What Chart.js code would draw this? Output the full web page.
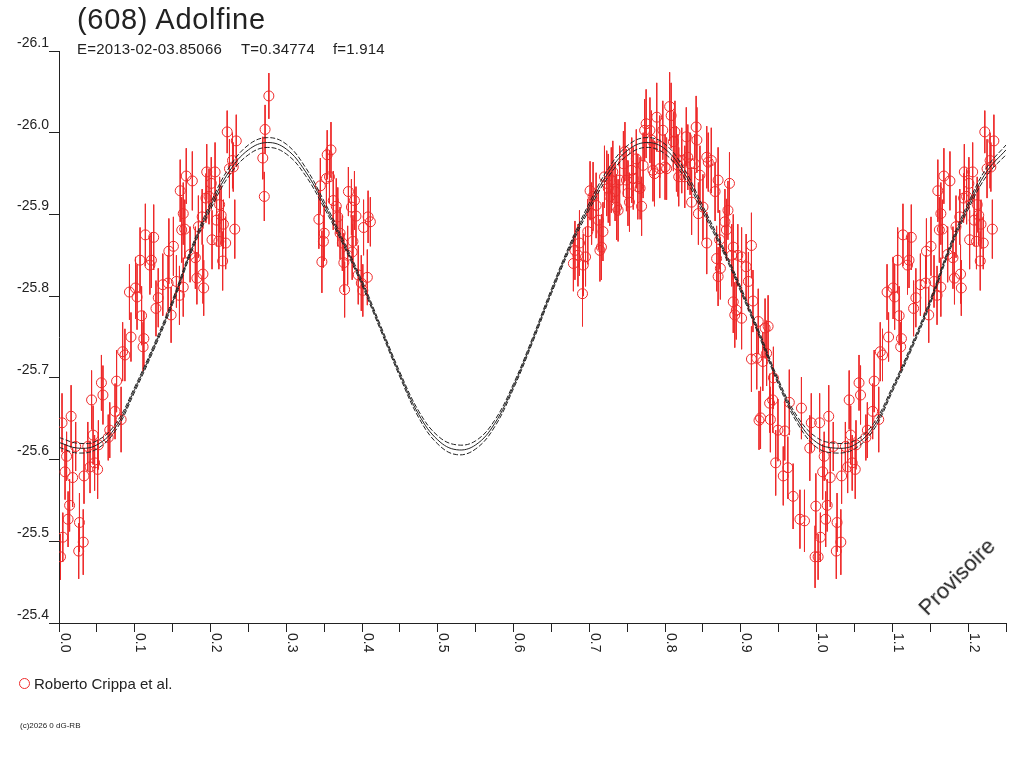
<!DOCTYPE html>
<html>
<head>
<meta charset="utf-8">
<script src="https://cdn.jsdelivr.net/npm/chart.js@4.4.1/dist/chart.umd.min.js"></script>
<style>
body { margin: 0; background: #fff; width: 1024px; height: 768px; overflow: hidden; position: relative; font-family: "Liberation Sans", Arial, sans-serif; color: #222; }
#chart { position: absolute; left: 0; top: 0; }
.txt { position: absolute; white-space: pre; line-height: 1; }
#legend-dot { position: absolute; left: 19px; top: 678px; width: 11px; height: 11px; box-sizing: border-box; border: 1px solid #ee2a2a; border-radius: 50%; }
</style>
</head>
<body>
<canvas id="chart" width="1024" height="768"></canvas>
<div class="txt" style="left:77px;top:5px;font-size:29px;letter-spacing:0.7px">(608) Adolfine</div>
<div class="txt" style="left:77px;top:41px;font-size:15px;letter-spacing:0.2px">E=2013-02-03.85066</div>
<div class="txt" style="left:241px;top:41px;font-size:15px;letter-spacing:0.2px">T=0.34774</div>
<div class="txt" style="left:333px;top:41px;font-size:15px;letter-spacing:0.2px">f=1.914</div>
<div id="legend-dot"></div>
<div class="txt" style="left:34px;top:676px;font-size:15px">Roberto Crippa et al.</div>
<div class="txt" style="left:20px;top:722px;font-size:8px">(c)2026 0 dG-RB</div>
<div class="txt" style="left:957px;top:577px;font-size:22px;transform:translate(-50%,-50%) rotate(-45deg)">Provisoire</div>

<script>
// tick labels
let xTickLabels = ['0.0', '0.1', '0.2', '0.3', '0.4', '0.5', '0.6', '0.7', '0.8', '0.9', '1.0', '1.1', '1.2'];
let yTickLabels = ['-26.1', '-26.0', '-25.9', '-25.8', '-25.7', '-25.6', '-25.5', '-25.4'];

// observations (phase, reduced magnitude, error)
let phase = [
    0.002, 0.005, 0.012, 0.014, 0.004, 0.016, 0.010, 0.008, 0.018, 0.022,
    0.027, 0.032, 0.026, 0.033, 0.038, 0.041, 0.043, 0.045, 0.047, 0.051,
    0.052, 0.056, 0.058, 0.065, 0.067, 0.076, 0.074, 0.082, 0.084, 0.087,
    0.095, 0.093, 0.101, 0.103, 0.109, 0.112, 0.111, 0.107, 0.120, 0.122,
    0.114, 0.125, 0.128, 0.131, 0.137, 0.144, 0.145, 0.151, 0.148, 0.155,
    0.159, 0.162, 0.164,
    0.277, 0.272, 0.269, 0.271, 0.222, 0.234, 0.229, 0.225, 0.230, 0.168,
    0.176, 0.160, 0.195, 0.206, 0.201, 0.198, 0.166, 0.194, 0.212, 0.214,
    0.208, 0.217, 0.232, 0.189, 0.184, 0.202, 0.211, 0.220, 0.216, 0.180,
    0.173, 0.190, 0.182, 0.191, 0.164,
    0.354, 0.359, 0.353, 0.357, 0.345, 0.343, 0.347, 0.350, 0.349, 0.362,
    0.366, 0.368, 0.371, 0.374, 0.376, 0.377, 0.382, 0.386, 0.390, 0.388,
    0.387, 0.392, 0.402, 0.408, 0.411, 0.395, 0.399, 0.401, 0.407, 0.381,
    0.691, 0.681, 0.685, 0.679, 0.687, 0.695, 0.692, 0.698, 0.701, 0.705,
    0.703, 0.709, 0.712, 0.714, 0.716, 0.718, 0.720, 0.723, 0.725, 0.727,
    0.729, 0.731, 0.734, 0.736, 0.738, 0.740, 0.745, 0.747, 0.749, 0.751,
    0.753, 0.756, 0.758, 0.762, 0.764, 0.767, 0.769, 0.771, 0.773, 0.775,
    0.780, 0.782, 0.784, 0.786, 0.789, 0.793, 0.797, 0.800, 0.802, 0.806,
    0.808, 0.813, 0.811, 0.815, 0.817, 0.818, 0.822, 0.826, 0.828, 0.830,
    0.833, 0.835, 0.839, 0.841, 0.842, 0.844, 0.846, 0.850, 0.855, 0.857,
    0.861, 0.855, 0.866, 0.870, 0.885, 0.883, 0.879, 0.881, 0.872, 0.868,
    0.873, 0.870, 0.890, 0.896, 0.901, 0.907, 0.890, 0.894, 0.892, 0.901,
    0.793,
    0.888, 0.914, 0.910, 0.916, 0.923, 0.932, 0.936, 0.914, 0.921, 0.929,
    0.934, 0.943, 0.938, 0.942, 0.926, 0.924, 0.939, 0.949, 0.958, 0.964,
    0.980, 0.946, 0.956, 0.962, 0.969, 0.978, 0.984, 0.991, 0.993, 0.998,
    0.999
];
let mag = [
    -25.481, -25.505, -25.527, -25.544, -25.645, -25.653, -25.604, -25.585, -25.578, -25.616,
    -25.523, -25.499, -25.488, -25.580, -25.616, -25.591, -25.673, -25.630, -25.596, -25.588,
    -25.618, -25.694, -25.679, -25.627, -25.636, -25.696, -25.659, -25.649, -25.732, -25.728,
    -25.750, -25.805, -25.810, -25.799, -25.776, -25.748, -25.738, -25.844, -25.838, -25.844,
    -25.875, -25.872, -25.785, -25.798, -25.814, -25.816, -25.855, -25.861, -25.777, -25.818,
    -25.801, -25.881, -25.901,
    -26.045, -26.004, -25.969, -25.922, -26.001, -25.990, -25.966, -25.956, -25.958, -25.947,
    -25.941, -25.929, -25.952, -25.952, -25.938, -25.922, -25.882, -25.920, -25.912, -25.899,
    -25.893, -25.888, -25.882, -25.897, -25.885, -25.869, -25.867, -25.865, -25.843, -25.847,
    -25.851, -25.827, -25.822, -25.810, -25.811,
    -25.973, -25.979, -25.944, -25.946, -25.935, -25.894, -25.842, -25.877, -25.867, -25.917,
    -25.910, -25.897, -25.877, -25.865, -25.841, -25.808, -25.928, -25.909, -25.917, -25.867,
    -25.854, -25.898, -25.884, -25.897, -25.891, -25.826, -25.816, -25.807, -25.823, -25.850,
    -25.803, -25.856, -25.850, -25.840, -25.865, -25.848, -25.838, -25.879, -25.929, -25.922,
    -25.901, -25.911, -25.893, -25.856, -25.860, -25.879, -25.946, -25.938, -25.932, -25.922,
    -25.942, -25.952, -25.928, -25.909, -25.905, -25.942, -25.962, -25.977, -25.942, -25.926,
    -25.915, -25.954, -25.944, -25.968, -25.934, -25.932, -25.910, -25.960, -26.003, -26.011,
    -26.003, -25.991, -25.954, -25.950, -26.019, -25.983, -26.003, -25.958, -25.956, -26.032,
    -26.021, -26.001, -25.989, -25.968, -25.960, -25.946, -25.966, -25.946, -25.995, -25.970,
    -25.962, -25.915, -25.962, -26.007, -25.991, -25.901, -25.948, -25.909, -25.970, -25.964,
    -25.966, -25.865, -25.928, -25.942, -25.938, -25.905, -25.891, -25.881, -25.869, -25.846,
    -25.834, -25.824, -25.860, -25.850, -25.848, -25.836, -25.793, -25.783, -25.777, -25.773,
    -25.956,
    -25.850, -25.862, -25.818, -25.794, -25.769, -25.761, -25.763, -25.723, -25.724, -25.720,
    -25.730, -25.700, -25.669, -25.673, -25.651, -25.648, -25.649, -25.636, -25.635, -25.670,
    -25.663, -25.596, -25.580, -25.590, -25.555, -25.527, -25.525, -25.614, -25.645, -25.481,
    -25.543
];
let err = [
    0.028, 0.030, 0.034, 0.032, 0.036, 0.038, 0.030, 0.034, 0.036, 0.030,
    0.036, 0.040, 0.034, 0.034, 0.030, 0.032, 0.036, 0.036, 0.034, 0.036,
    0.030, 0.034, 0.036, 0.028, 0.034, 0.038, 0.034, 0.040, 0.036, 0.032,
    0.030, 0.034, 0.038, 0.040, 0.036, 0.034, 0.030, 0.040, 0.036, 0.034,
    0.038, 0.040, 0.034, 0.036, 0.038, 0.034, 0.040, 0.036, 0.034, 0.032,
    0.036, 0.040, 0.038,
    0.028, 0.030, 0.026, 0.030, 0.026, 0.032, 0.034, 0.036, 0.030, 0.034,
    0.036, 0.038, 0.034, 0.036, 0.032, 0.034, 0.036, 0.030, 0.034, 0.036,
    0.032, 0.030, 0.036, 0.034, 0.038, 0.036, 0.034, 0.032, 0.036, 0.038,
    0.034, 0.036, 0.032, 0.034, 0.036,
    0.030, 0.034, 0.036, 0.032, 0.034, 0.036, 0.038, 0.034, 0.032, 0.036,
    0.034, 0.036, 0.032, 0.034, 0.036, 0.034, 0.030, 0.034, 0.036, 0.032,
    0.034, 0.036, 0.034, 0.032, 0.030, 0.036, 0.034, 0.032, 0.034, 0.036,
    0.040, 0.036, 0.038, 0.034, 0.040, 0.036, 0.038, 0.040, 0.036, 0.042,
    0.038, 0.040, 0.036, 0.038, 0.040, 0.036, 0.038, 0.040, 0.042, 0.036,
    0.040, 0.038, 0.036, 0.040, 0.038, 0.042, 0.040, 0.036, 0.038, 0.040,
    0.036, 0.040, 0.038, 0.036, 0.040, 0.038, 0.036, 0.040, 0.038, 0.042,
    0.040, 0.036, 0.038, 0.040, 0.042, 0.038, 0.036, 0.040, 0.038, 0.042,
    0.040, 0.038, 0.036, 0.040, 0.038, 0.036, 0.040, 0.038, 0.036, 0.040,
    0.038, 0.040, 0.036, 0.038, 0.040, 0.038, 0.036, 0.040, 0.038, 0.036,
    0.040, 0.038, 0.036, 0.040, 0.038, 0.036, 0.040, 0.038, 0.036, 0.040,
    0.038, 0.036, 0.040, 0.038, 0.036, 0.040, 0.038, 0.036, 0.040, 0.038,
    0.036,
    0.038, 0.040, 0.036, 0.038, 0.040, 0.036, 0.038, 0.040, 0.038, 0.036,
    0.040, 0.038, 0.036, 0.040, 0.038, 0.036, 0.040, 0.038, 0.036, 0.040,
    0.038, 0.040, 0.036, 0.038, 0.040, 0.036, 0.038, 0.040, 0.036, 0.038,
    0.040
];

// fitted light curve
let curvePhase = [
    0.000, 0.025, 0.050, 0.075, 0.100, 0.125, 0.150, 0.175, 0.200, 0.225,
    0.250, 0.275, 0.300, 0.325, 0.350, 0.375, 0.400, 0.425, 0.450, 0.475,
    0.500, 0.525, 0.550, 0.575, 0.600, 0.625, 0.650, 0.675, 0.700, 0.725,
    0.750, 0.775, 0.800, 0.825, 0.850, 0.875, 0.900, 0.925, 0.950, 0.975,
    1.000, 1.025, 1.050, 1.075, 1.100, 1.125, 1.150, 1.175, 1.200, 1.225, 1.250
];
let curveMid = [
    -25.621, -25.614, -25.618, -25.640, -25.686, -25.737, -25.793, -25.857, -25.910, -25.953,
    -25.979, -25.988, -25.980, -25.953, -25.912, -25.866, -25.816, -25.760, -25.704, -25.655,
    -25.624, -25.612, -25.618, -25.644, -25.690, -25.746, -25.806, -25.862, -25.910, -25.951,
    -25.978, -25.988, -25.980, -25.951, -25.906, -25.860, -25.808, -25.752, -25.694, -25.648,
    -25.621, -25.614, -25.618, -25.640, -25.686, -25.737, -25.793, -25.857, -25.910, -25.953, -25.979
];
let curveUpper = [
    -25.627, -25.620, -25.623, -25.644, -25.689, -25.740, -25.796, -25.860, -25.914, -25.958,
    -25.985, -25.994, -25.986, -25.958, -25.916, -25.869, -25.819, -25.763, -25.707, -25.659,
    -25.629, -25.618, -25.623, -25.648, -25.693, -25.749, -25.809, -25.865, -25.914, -25.956,
    -25.984, -25.994, -25.986, -25.956, -25.910, -25.863, -25.811, -25.755, -25.697, -25.652,
    -25.627, -25.620, -25.623, -25.644, -25.689, -25.740, -25.796, -25.860, -25.914, -25.958, -25.985
];
let curveLower = [
    -25.615, -25.608, -25.613, -25.636, -25.683, -25.734, -25.790, -25.854, -25.906, -25.948,
    -25.973, -25.982, -25.974, -25.948, -25.908, -25.863, -25.813, -25.757, -25.701, -25.651,
    -25.619, -25.606, -25.613, -25.640, -25.687, -25.743, -25.803, -25.859, -25.906, -25.946,
    -25.972, -25.982, -25.974, -25.946, -25.902, -25.857, -25.805, -25.749, -25.691, -25.644,
    -25.615, -25.608, -25.613, -25.636, -25.683, -25.734, -25.790, -25.854, -25.906, -25.948, -25.973
];

const red = '#ee2a2a';
const ink = '#222';

// build points, repeating the start of the phase past 1.0
let points = [];
let bars = [];
let n = Math.min(phase.length, mag.length, err.length);
for (let i = 0; i < n; i++) {
    let copies = phase[i] < 0.26 ? [phase[i], phase[i] + 1] : [phase[i]];
    for (let j = 0; j < copies.length; j++) {
        let px = copies[j];
        points.push({ x: px, y: mag[i] });
        bars.push({ x: px, y: mag[i] - err[i] });
        bars.push({ x: px, y: mag[i] + err[i] });
        bars.push({ x: px, y: null });
    }
}

function curveData(values) {
    let out = [];
    for (let i = 0; i < curvePhase.length; i++) {
        out.push({ x: curvePhase[i], y: values[i] });
    }
    return out;
}

// x labels are turned clockwise like the original plot
const xLabelPlugin = {
    id: 'xLabels',
    afterDraw(chart) {
        const scale = chart.scales.x;
        const ctx = chart.ctx;
        ctx.save();
        ctx.font = '14px "Liberation Sans", Arial, sans-serif';
        ctx.fillStyle = ink;
        ctx.textAlign = 'left';
        ctx.textBaseline = 'alphabetic';
        for (let i = 0; i < xTickLabels.length; i++) {
            let px = scale.getPixelForValue(parseFloat(xTickLabels[i]));
            ctx.save();
            ctx.translate(px + 1.5, scale.top + 10);
            ctx.rotate(Math.PI / 2);
            ctx.fillText(xTickLabels[i], 0, 0);
            ctx.restore();
        }
        ctx.restore();
    }
};

new Chart(document.getElementById('chart'), {
    type: 'scatter',
    data: {
        datasets: [
            {
                type: 'line',
                label: 'fit',
                data: curveData(curveMid),
                borderColor: ink,
                borderWidth: 1,
                pointRadius: 0,
                tension: 0.4,
                order: 0
            },
            {
                type: 'line',
                label: 'fit+',
                data: curveData(curveUpper),
                borderColor: ink,
                borderWidth: 1,
                borderDash: [5, 2],
                pointRadius: 0,
                tension: 0.4,
                order: 0
            },
            {
                type: 'line',
                label: 'fit-',
                data: curveData(curveLower),
                borderColor: ink,
                borderWidth: 1,
                borderDash: [5, 2],
                pointRadius: 0,
                tension: 0.4,
                order: 0
            },
            {
                label: 'Roberto Crippa et al.',
                data: points,
                pointStyle: 'circle',
                pointRadius: 5,
                pointBorderWidth: 1,
                pointBorderColor: red,
                pointBackgroundColor: 'rgba(0,0,0,0)',
                order: 1
            },
            {
                type: 'line',
                label: 'errors',
                data: bars,
                borderColor: red,
                borderWidth: 1,
                pointRadius: 0,
                spanGaps: false,
                tension: 0,
                order: 2
            }
        ]
    },
    options: {
        responsive: false,
        animation: false,
        devicePixelRatio: 1,
        layout: { padding: { left: 0, top: 51, right: 18, bottom: 105 } },
        plugins: {
            legend: { display: false },
            tooltip: { enabled: false }
        },
        scales: {
            x: {
                type: 'linear',
                min: 0,
                max: 1.25,
                ticks: { display: false, stepSize: 0.05 },
                grid: { display: true, drawOnChartArea: false, drawTicks: true, tickLength: 9, tickColor: ink },
                border: { display: true, color: ink, width: 1 },
                afterFit: (s) => { s.height = 40; }
            },
            y: {
                type: 'linear',
                reverse: true,
                min: -26.1,
                max: -25.4,
                ticks: {
                    stepSize: 0.1,
                    padding: 0,
                    labelOffset: -8,
                    color: ink,
                    font: { family: '"Liberation Sans", Arial, sans-serif', size: 14 },
                    callback: (v) => yTickLabels[Math.round((v + 26.1) * 10)]
                },
                grid: { display: true, drawOnChartArea: false, drawTicks: true, tickLength: 10, tickColor: ink },
                border: { display: true, color: ink, width: 1 },
                afterFit: (s) => { s.width = 59; }
            }
        }
    },
    plugins: [xLabelPlugin]
});
</script>
</body>
</html>
